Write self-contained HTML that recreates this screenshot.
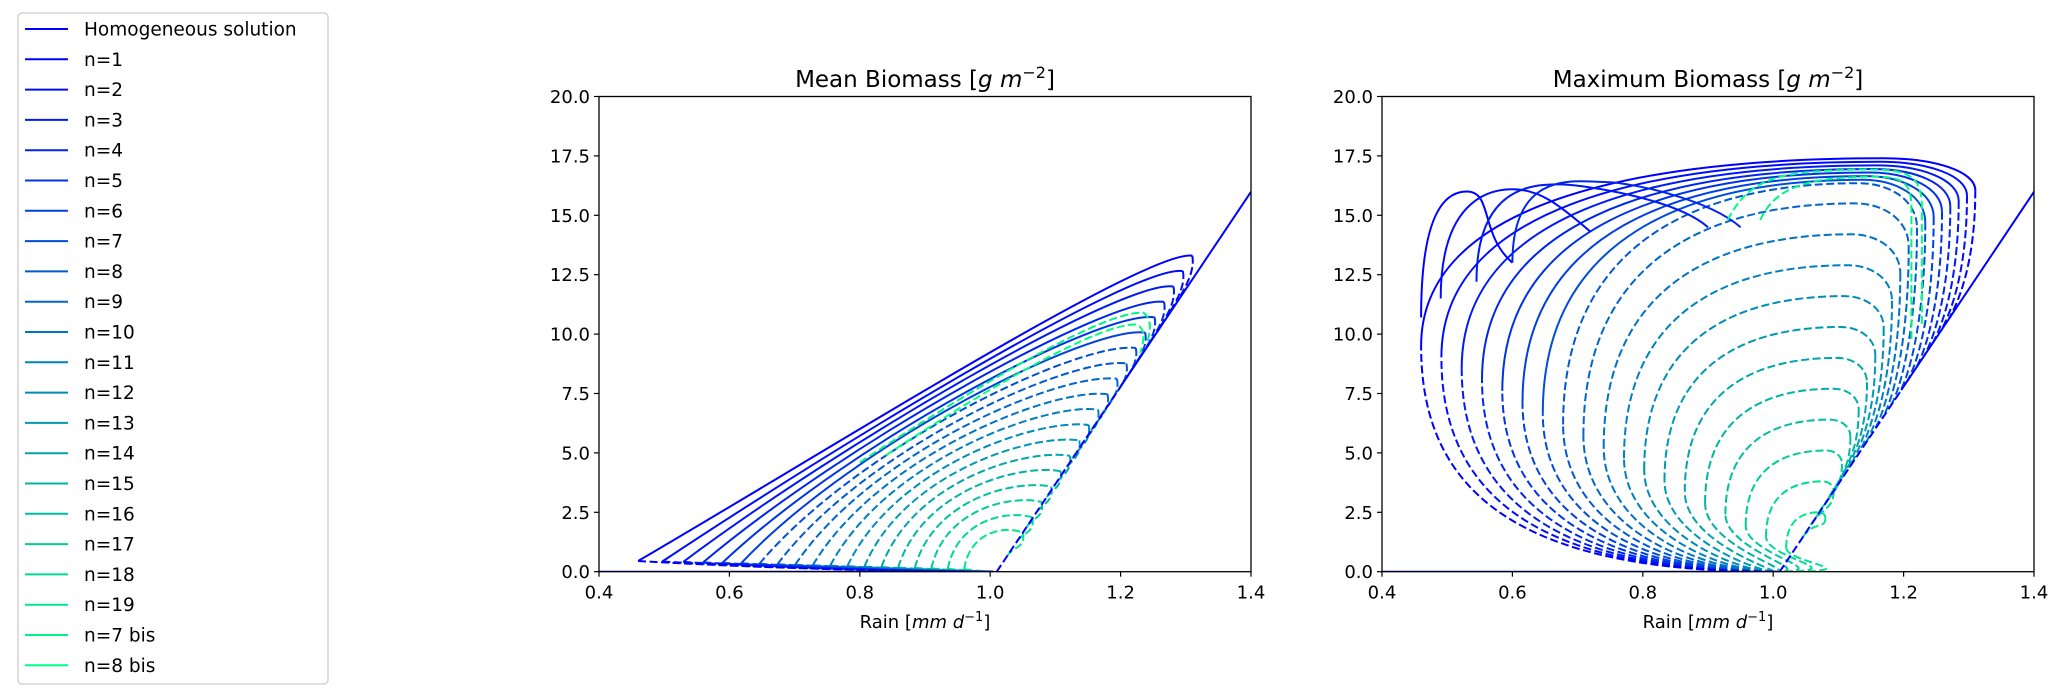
<!DOCTYPE html>
<html><head><meta charset="utf-8">
<style>
html,body{margin:0;padding:0;background:#fff;}
svg{display:block;}
text{font-family:"DejaVu Sans","Liberation Sans",sans-serif;fill:#000;}
</style></head>
<body>
<svg id="s" width="2067" height="697" xmlns="http://www.w3.org/2000/svg"></svg>
<script>
const S=document.getElementById('s');
let out='';
function col(t){return `rgb(0,${Math.round(255*t)},${Math.round(255*(1-0.5*t))})`;}
out+=`<rect x="18" y="13" width="310" height="671" rx="4" fill="#fff" stroke="#cccccc" stroke-width="1.3"/>`;
const labels=['Homogeneous solution'];
for(let i=1;i<=19;i++)labels.push('n='+i);
labels.push('n=7 bis','n=8 bis');
labels.forEach((l,i)=>{
  const y=29+i*30.3;
  const c=i==0?'rgb(0,0,255)':col((i-1)/20);
  out+=`<line x1="25" x2="68" y1="${y}" y2="${y}" stroke="${c}" stroke-width="2"/>`;
  out+=`<text x="84" y="${y+6.5}" font-size="18.5">${l}</text>`;
});
function axes(x0,x1,title){
  const y0=571.7,y1=96.5;
  const X=v=>x0+(v-0.4)*(x1-x0);
  const Y=v=>y0-(v)*(y0-y1)/20;
  let o=`<rect x="${x0}" y="${y1}" width="${x1-x0}" height="${y0-y1}" fill="none" stroke="#000" stroke-width="1.3"/>`;
  for(let i=0;i<=5;i++){const v=0.4+0.2*i,px=X(v);
    o+=`<line x1="${px}" x2="${px}" y1="${y0}" y2="${y0+5}" stroke="#000" stroke-width="1.2"/>`;
    o+=`<text x="${px}" y="${y0+27}" font-size="18" text-anchor="middle">${v.toFixed(1)}</text>`;}
  for(let i=0;i<=8;i++){const v=2.5*i,py=Y(v);
    o+=`<line x1="${x0-5}" x2="${x0}" y1="${py}" y2="${py}" stroke="#000" stroke-width="1.2"/>`;
    o+=`<text x="${x0-9}" y="${py+6.5}" font-size="18" text-anchor="end">${v.toFixed(1)}</text>`;}
  const cx=(x0+x1)/2;
  o+=`<text x="${cx}" y="87" font-size="23" text-anchor="middle">${title} [<tspan font-style="italic">g m</tspan><tspan font-size="16" dy="-9">−2</tspan><tspan dy="9">]</tspan></text>`;
  o+=`<text x="${cx}" y="628" font-size="18" text-anchor="middle">Rain [<tspan font-style="italic">mm d</tspan><tspan font-size="13" dy="-7">−1</tspan><tspan dy="7">]</tspan></text>`;
  return {o,X,Y};
}
function P(A,pts){return pts.map(p=>A.X(p[0]).toFixed(1)+','+A.Y(p[1]).toFixed(1));}
function path(A,cmds,c,dash){
  let d='';
  cmds.forEach(cm=>{d+=cm[0]+P(A,cm.slice(1)).join(' ')+' ';});
  return `<path d="${d}" fill="none" stroke="${c}" stroke-width="2" ${dash?'stroke-dasharray="8 3.5"':''} stroke-linejoin="round"/>`;
}
const HS=41;
// ---------- Mean plot
{
const A=axes(599,1251,'Mean Biomass');
let o='';
o+=`<clipPath id="c1"><rect x="599" y="96" width="652" height="476"/></clipPath><g clip-path="url(#c1)">`;
for(let k=19;k>=1;k--){
  const t=(k-1)/18,c=col((k-1)/20);
  const xL=0.46+0.5*Math.pow(t,0.9),yL=0.35*(1-t)+0.1;
  const xR=1.31-0.26*t;
  const xh=xR-0.025,yh=HS*(xh-1.01);
  const ytop=Math.max(HS*(xR-1.01)+1.0*(1-t)+0.3,yh+0.6);
  const b=0.35+0.5*t;
  o+=path(A,[['M',[xL,yL]],['Q',[(xL+1.0)/2,0.03],[1.005,0]]],c,true);
  o+=path(A,[['M',[xL,yL]],['C',[xL+(0.35-0.25*t)*(xR-xL),yL+b*ytop],[xR-(0.08+0.2*t)*(xR-xL),ytop],[xR,ytop-0.3]]],c,k>6);
  o+=path(A,[['M',[xR,ytop-0.3]],['C',[xR+0.005,ytop-1],[xh+0.01,yh+0.5],[xh,yh]]],c,true);
}
o+=path(A,[['M',[0.8,4.6]],['C',[1.0,8.2],[1.18,11.0],[1.235,10.9]],['C',[1.25,10.6],[1.245,10],[1.24,9.6]]],col(0.95),true);
o+=path(A,[['M',[0.84,4.9]],['C',[1.0,7.8],[1.17,10.5],[1.225,10.4]],['C',[1.24,10.2],[1.235,9.6],[1.23,9.2]]],col(1),true);
o+=`<line x1="${A.X(0.4)}" x2="${A.X(1.005)}" y1="${A.Y(0)}" y2="${A.Y(0)}" stroke="rgb(0,0,255)" stroke-width="2"/>`;
o+=path(A,[['M',[1.01,0]],['L',[1.2,HS*0.19]]],'rgb(0,0,255)',true);
o+=path(A,[['M',[1.2,HS*0.19]],['L',[1.4,HS*0.39]]],'rgb(0,0,255)',false);
o+='</g>';
out+=o+A.o;
}
// ---------- Max plot
{
const A=axes(1382,2034,'Maximum Biomass');
let o='';
o+=`<clipPath id="c2"><rect x="1382" y="96" width="652" height="476"/></clipPath><g clip-path="url(#c2)">`;
for(let k=19;k>=1;k--){
  const t=(k-1)/18,c=col((k-1)/20);
  const xL=0.46+0.56*t,yL=9.5*(1-t)+1.0*t;
  const xp=1.17-0.10*t;
  const ytop=k<=8?17.4-0.15*(k-1):15.5-1.3*(k-9);
  const xR=1.31-0.23*t;
  const xh=xR-0.04,yh=HS*(xh-1.01);
  o+=path(A,[['M',[1.0,0]],['C',[xL+0.15,0],[xL,yL*0.35],[xL,yL]]],c,true);
  const yr=ytop-(ytop-yh)*0.2;
  o+=path(A,[['M',[xL,yL]],['C',[xL,yL+(ytop-yL)*0.75],[xp-(xp-xL)*0.55,ytop],[xp,ytop]],['C',[xp+0.55*(xR-xp),ytop],[xR,ytop-(ytop-yr)*0.4],[xR,yr]]],c,k>7);
  o+=path(A,[['M',[xR,yr]],['C',[xR,(yr+yh)/2],[xh+0.02,yh+1],[xh,yh]]],c,true);
}
const humps=[[0.46,10.7,0.53,16.0,0.6,13.0],[0.49,11.5,0.6,16.1,0.72,14.3],[0.545,12.2,0.67,16.3,0.9,14.5],[0.6,13.0,0.74,16.4,0.95,14.5]];
humps.forEach((h,i)=>{
  const c=col(i/20);
  o+=path(A,[['M',[h[0],h[1]]],['C',[h[0],h[1]+4],[h[2]-0.04,h[3]],[h[2],h[3]]],['C',[h[2]+0.04,h[3]],[h[4]-0.05,h[5]+1.2],[h[4],h[5]]]],c,false);
});
o+=path(A,[['M',[0.93,14.8]],['C',[0.96,16.4],[1.0,16.8],[1.1,16.9]],['C',[1.2,17.0],[1.225,16.9],[1.228,15.5]],['L',[1.228,10.3]]],col(1),true);
o+=path(A,[['M',[0.98,14.8]],['C',[1.0,16.0],[1.04,16.5],[1.12,16.6]],['C',[1.19,16.7],[1.21,16.6],[1.212,15.5]],['L',[1.212,9.8]]],col(0.95),true);
o+=`<line x1="${A.X(0.4)}" x2="${A.X(1.005)}" y1="${A.Y(0)}" y2="${A.Y(0)}" stroke="rgb(0,0,255)" stroke-width="2"/>`;
o+=path(A,[['M',[1.01,0]],['L',[1.2,HS*0.19]]],'rgb(0,0,255)',true);
o+=path(A,[['M',[1.2,HS*0.19]],['L',[1.4,HS*0.39]]],'rgb(0,0,255)',false);
o+='</g>';
out+=o+A.o;
}
S.innerHTML=out;
</script>
</body></html>
